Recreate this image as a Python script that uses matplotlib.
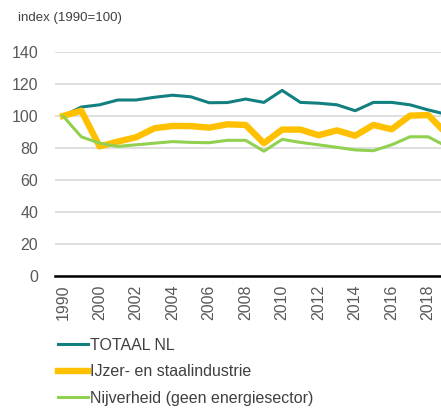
import matplotlib
matplotlib.use("Agg")
from matplotlib import pyplot as plt

plt.rcParams['font.family'] = ['Liberation Sans', 'DejaVu Sans']

# Categories (1990, 1995, then yearly 2000-2019)
years = ["1990", "1995"] + [str(y) for y in range(2000, 2020)]

totaal_nl = [100, 105.6, 107, 110, 110, 111.7, 113, 112, 108.3, 108.4,
             110.6, 108.5, 116, 108.5, 108, 107, 103.3, 108.5, 108.5, 107,
             103.8, 101]
ijzer_staal = [100, 103.3, 81, 84, 86.7, 92.3, 93.8, 93.7, 92.7, 94.8,
               94.4, 83, 91.5, 91.5, 88, 91, 87.7, 94.4, 91.7, 100.2,
               100.6, 89]
nijverheid = [100, 87, 83, 81, 82, 83, 84, 83.5, 83.3, 84.8,
              84.8, 78, 85.4, 83.5, 82, 80.4, 78.8, 78.3, 82, 87,
              87, 81]

labels = ["TOTAAL NL", "IJzer- en staalindustrie", "Nijverheid (geen energiesector)"]
colors = ["#138080", "#ffc000", "#92d050"]

fig = plt.figure(figsize=(4.41, 4.08), dpi=100)
ax = fig.add_axes([55 / 441, 132 / 408, 386 / 441, 224 / 408])

x = list(range(len(years)))
ax.plot(x, totaal_nl, color=colors[0], lw=2.2, label=labels[0], solid_joinstyle='round')
ax.plot(x, ijzer_staal, color=colors[1], lw=4.6, label=labels[1], solid_joinstyle='round')
ax.plot(x, nijverheid, color=colors[2], lw=2.2, label=labels[2], solid_joinstyle='round')

ax.set_ylim(0, 140)
ax.set_yticks(range(0, 141, 20))
ax.set_xlim(-0.44, 20.7)
ax.set_xticks(x[::2])
ax.set_xticklabels(years[::2], rotation=90)

ax.grid(axis='y', color='#d9d9d9', lw=1.2)
ax.set_axisbelow(True)
for s in ['top', 'right', 'left']:
    ax.spines[s].set_visible(False)
ax.spines['bottom'].set_color('black')
ax.spines['bottom'].set_linewidth(1.8)
ax.spines['bottom'].set_zorder(5)
ax.tick_params(length=0, colors='#595959', labelsize=11.5)
ax.tick_params(axis='y', pad=12)
ax.tick_params(axis='x', pad=6)

fig.text(18 / 441, 1 - 18 / 408, "index (1990=100)", fontsize=9.5, color='#404040', va='center')

fig.legend(loc='upper left', bbox_to_anchor=(58 / 441, 1 - 338 / 408), frameon=False,
           fontsize=11.5, handlelength=1.9, handletextpad=0.1, labelspacing=0.72,
           borderpad=0, borderaxespad=0, labelcolor='#404040')

fig.savefig("out.png", dpi=100)
